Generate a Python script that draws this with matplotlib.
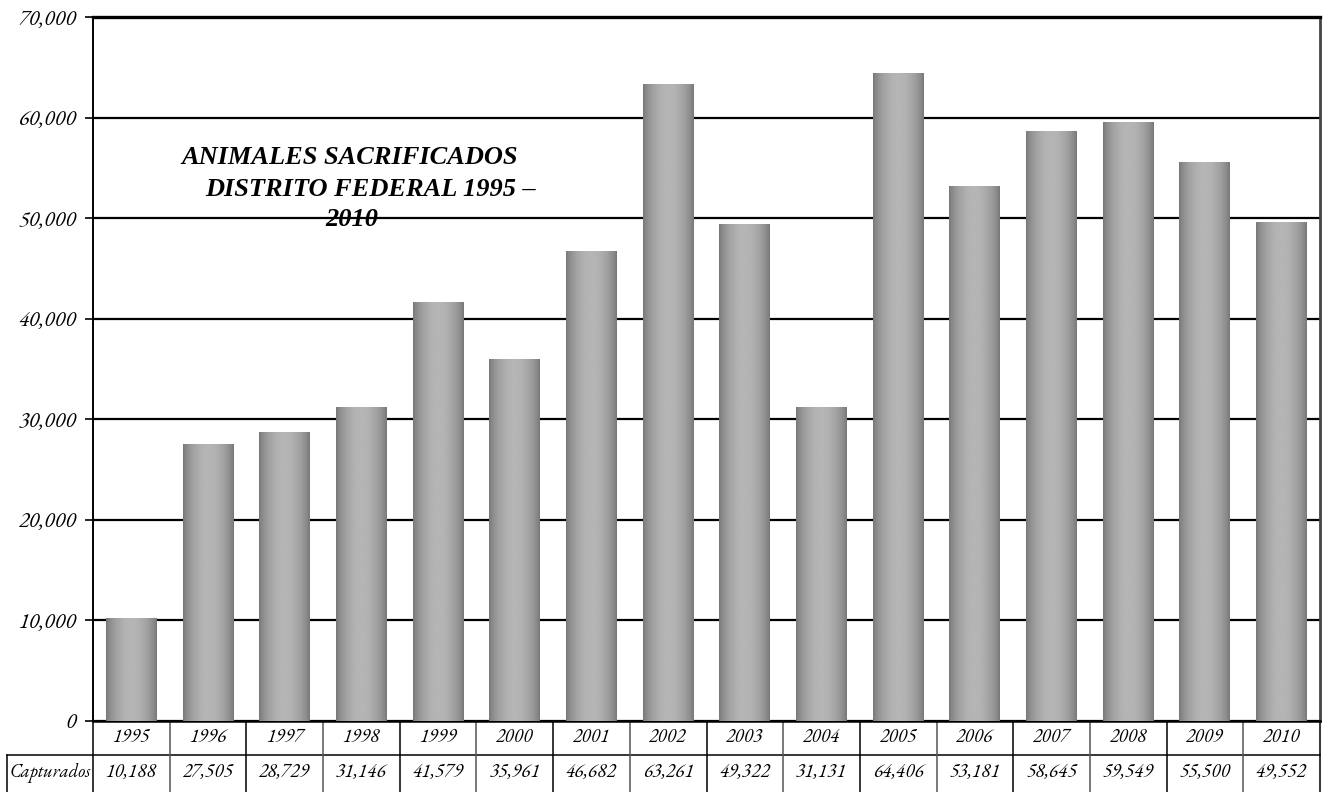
import numpy as np
import matplotlib
matplotlib.use("Agg")
import matplotlib.pyplot as plt
from matplotlib.ticker import FuncFormatter, MultipleLocator

years = ["1995", "1996", "1997", "1998", "1999", "2000", "2001", "2002",
         "2003", "2004", "2005", "2006", "2007", "2008", "2009", "2010"]
capturados = [10188, 27505, 28729, 31146, 41579, 35961, 46682, 63261,
              49322, 31131, 64406, 53181, 58645, 59549, 55500, 49552]
row_label = "Capturados"
title_lines = ["ANIMALES SACRIFICADOS", "DISTRITO FEDERAL 1995 \u2013", "2010"]

body_font = ["EB Garamond", "Liberation Serif", "DejaVu Serif"]
title_font = ["Liberation Serif", "DejaVu Serif"]
plt.rcParams["font.family"] = body_font
plt.rcParams["font.style"] = "italic"

W, H = 1326, 792
fig = plt.figure(figsize=(W / 100, H / 100), dpi=100)
x0, x1, ytop, ybot = 93, 1320, 17, 721
ax = fig.add_axes([x0 / W, (H - ybot) / H, (x1 - x0) / W, (ybot - ytop) / H])

n = len(years)
xs = np.arange(n)
bar_w = 0.665

# cylinder-like horizontal shading for every bar
t = np.linspace(0, 1, 200)
shade = 0.46 + 0.25 * np.sin(np.pi * t) ** 0.7
grad = shade[np.newaxis, :]
for x, v in zip(xs, capturados):
    ax.imshow(grad, cmap="gray", vmin=0, vmax=1, aspect="auto",
              interpolation="bilinear",
              extent=(x - bar_w / 2, x + bar_w / 2, 0, v), zorder=3)

ax.set_xlim(-0.5, n - 0.5)
ax.set_ylim(0, 70000)
ax.yaxis.set_major_locator(MultipleLocator(10000))
ax.yaxis.set_major_formatter(FuncFormatter(lambda v, p: f"{int(v):,}"))
ax.grid(axis="y", color="black", linewidth=1.6, zorder=1)
ax.set_axisbelow(True)
ax.set_xticks([])
ax.tick_params(axis="y", direction="out", length=6, width=1.2, pad=6,
               labelsize=16)

ax.spines["top"].set_linewidth(2.4)
ax.spines["left"].set_linewidth(1.4)
ax.spines["bottom"].set_linewidth(1.8)
ax.spines["right"].set_color("#444444")
ax.spines["right"].set_linewidth(2)

# data table below the plot
tr = ax.get_xaxis_transform()
row_mid = -0.0483
row_bot = -0.101
lbl_left = -0.5 + (7 - x0) / ((x1 - x0) / n)
ax.plot([lbl_left, n - 0.5], [row_mid, row_mid], transform=tr,
        color="black", lw=1.1, clip_on=False)
ax.plot([lbl_left, lbl_left], [row_mid, row_bot], transform=tr,
        color="black", lw=1.1, clip_on=False)
for k in range(n + 1):
    ax.plot([k - 0.5, k - 0.5], [0, row_bot], transform=tr,
            color="black" if k % 2 == 0 else "#555555", lw=1.1,
            clip_on=False)
for x, yr, v in zip(xs, years, capturados):
    ax.text(x, -0.0241, yr, transform=tr, ha="center", va="center",
            fontsize=14)
    ax.text(x, -0.0745, f"{v:,}", transform=tr, ha="center", va="center",
            fontsize=14)
ax.text((lbl_left - 0.5) / 2, -0.0745, row_label, transform=tr,
        ha="center", va="center", fontsize=13.3)

# title block inside the plot
title_pos = [(181, 158), (205, 190), (325, 219)]
for (px, py), line in zip(title_pos, title_lines):
    fig.text(px / W, 1 - py / H, line, ha="left", va="center",
             fontsize=19, fontweight="bold", fontstyle="italic",
             family=title_font, zorder=5)

fig.savefig("out.png", dpi=100)
